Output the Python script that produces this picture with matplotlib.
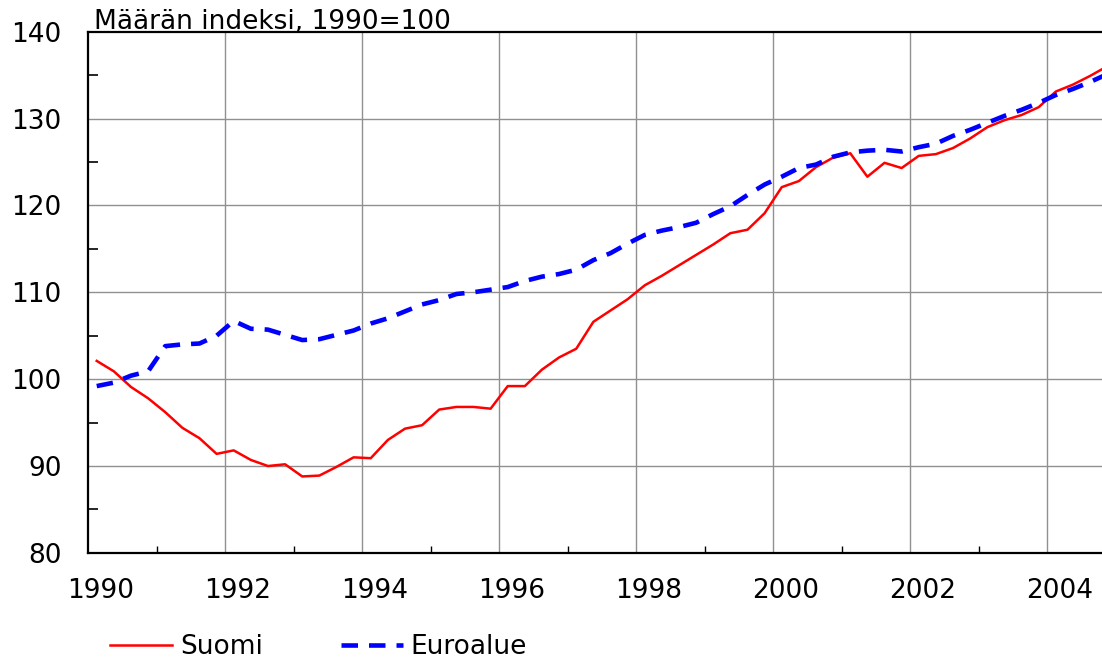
import numpy as np
import matplotlib
matplotlib.use("Agg")
import matplotlib.pyplot as plt

plt.rcParams['font.family'] = ['DejaVu Sans']

# quarterly index values, 1990Q1 ->
suomi = [102.1, 100.9, 99.1, 97.8, 96.2, 94.4, 93.2, 91.4, 91.8, 90.7,
         90.0, 90.2, 88.8, 88.9, 89.9, 91.0, 90.9, 93.0, 94.3, 94.7,
         96.5, 96.8, 96.8, 96.6, 99.2, 99.2, 101.1, 102.5, 103.5, 106.6,
         107.9, 109.2, 110.8, 111.9, 113.1, 114.3, 115.5, 116.8, 117.2, 119.1,
         122.1, 122.8, 124.4, 125.5, 126.0, 123.3, 124.9, 124.3, 125.7, 125.9,
         126.6, 127.7, 129.0, 129.8, 130.4, 131.3, 133.1, 133.9, 134.9, 136.0]
euroalue = [99.2, 99.6, 100.4, 100.9, 103.8, 104.0, 104.1, 105.0, 106.7, 105.8,
            105.7, 105.1, 104.5, 104.6, 105.1, 105.6, 106.4, 107.0, 107.8, 108.6,
            109.1, 109.8, 110.0, 110.3, 110.6, 111.3, 111.8, 112.1, 112.6, 113.7,
            114.5, 115.6, 116.6, 117.1, 117.5, 118.0, 119.0, 119.9, 121.2, 122.4,
            123.3, 124.3, 124.7, 125.6, 126.1, 126.3, 126.4, 126.2, 126.7, 127.1,
            128.0, 128.7, 129.5, 130.3, 131.0, 131.8, 132.7, 133.4, 134.2, 135.1]
year_labels = ['1990', '1992', '1994', '1996', '1998', '2000', '2002', '2004']
y_ticks = [80, 90, 100, 110, 120, 130, 140]

t = 1990.125 + 0.25 * np.arange(len(suomi))
fs = 19

fig = plt.figure(figsize=(11.02, 6.59), dpi=100)
ax = fig.add_axes([0.080, 0.161, 0.920, 0.791])

ax.plot(t, suomi, color='#ff0000', lw=1.8, label='Suomi')
ln, = ax.plot(t, euroalue, color='#0000ff', lw=3.3, label='Euroalue')
ln.set_dashes([3.6, 2.4])

ax.set_xlim(1990, 2004.8)
ax.set_ylim(80, 140)

# gridlines
for v in y_ticks[1:-1]:
    ax.axhline(v, color='#909090', lw=1, zorder=0)
for yr in range(1992, 2005, 2):
    ax.axvline(yr, color='#909090', lw=1, zorder=0)

ax.set_yticks(y_ticks)
ax.set_yticks(np.arange(85, 140, 10), minor=True)
ax.set_xticks([int(s) for s in year_labels])
ax.set_xticks(range(1991, 2005, 2), minor=True)
ax.set_xticklabels([])
ax.tick_params(axis='y', which='major', direction='in', length=0, labelsize=fs, pad=19)
ax.tick_params(axis='y', which='minor', direction='in', length=7, width=1.2)
ax.tick_params(axis='x', which='major', direction='in', length=0)
ax.tick_params(axis='x', which='minor', direction='in', length=5, width=1)

# year labels sit a bit right of the tick
for s in year_labels:
    ax.text(int(s) + 0.18, -0.074, s, transform=ax.get_xaxis_transform(),
            ha='center', va='center', fontsize=fs)

for side in ['left', 'bottom', 'top']:
    ax.spines[side].set_linewidth(1.6)
ax.spines['right'].set_visible(False)

ax.text(0.006, 1.005, 'Määrän indeksi, 1990=100', transform=ax.transAxes,
        ha='left', va='baseline', fontsize=fs)

fig.legend(loc='center left', bbox_to_anchor=(0.0998, 0.018), ncol=2, frameon=False,
           fontsize=fs, handlelength=2.35, columnspacing=2.95, handletextpad=0.3,
           borderpad=0, borderaxespad=0)

fig.savefig('out.png', dpi=100)
